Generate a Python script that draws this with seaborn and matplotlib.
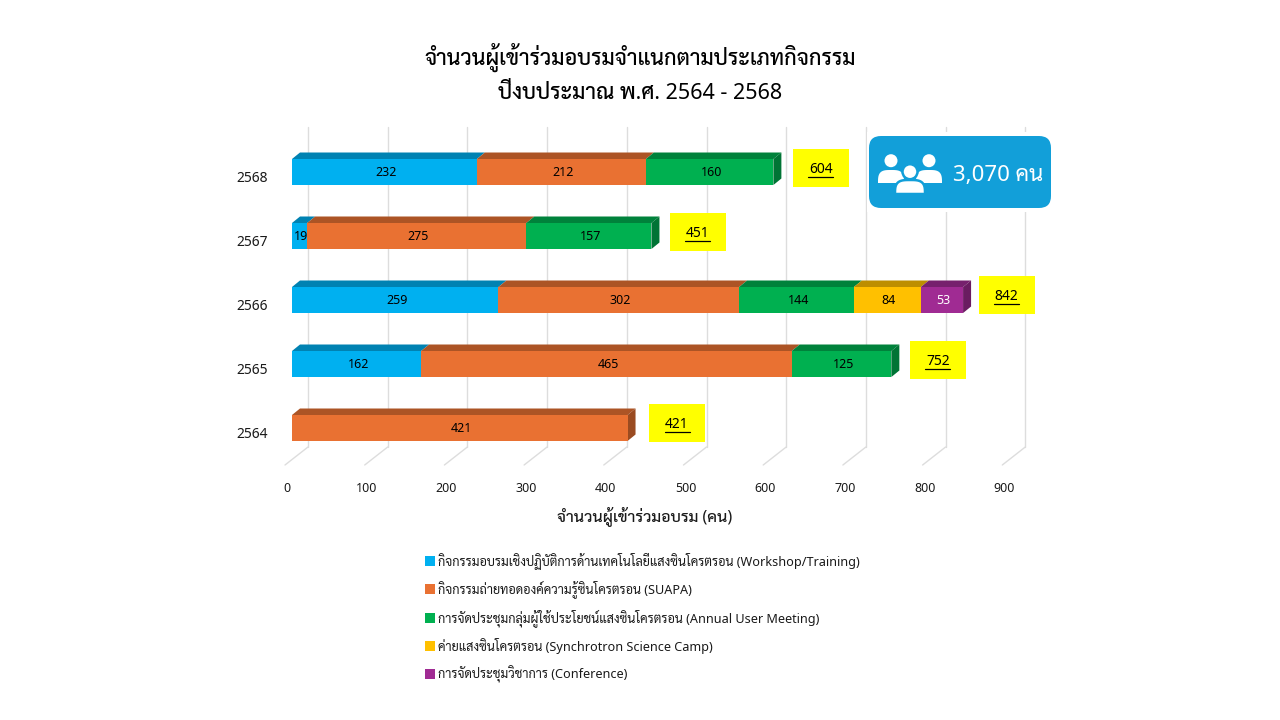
# plot.py - participants per activity type, fiscal years 2564-2568

import numpy as np
import matplotlib.pyplot as plt
import seaborn as sns
from matplotlib.colors import to_rgb
from matplotlib.patches import Circle, FancyBboxPatch, Polygon, Rectangle
from matplotlib.transforms import ScaledTranslation

# Data
years = ['2568', '2567', '2566', '2565', '2564']
workshop = [232, 19, 259, 162, 0]
suapa = [212, 275, 302, 465, 421]
user_meeting = [160, 157, 144, 125, 0]
camp = [0, 0, 84, 0, 0]
conference = [0, 0, 53, 0, 0]
totals = [604, 451, 842, 752, 421]
x_ticks = [0, 100, 200, 300, 400, 500, 600, 700, 800, 900]

series_names = [
    'กิจกรรมอบรมเชิงปฏิบัติการด้านเทคโนโลยีแสงซินโครตรอน (Workshop/Training)',
    'กิจกรรมถ่ายทอดองค์ความรู้ซินโครตรอน (SUAPA)',
    'การจัดประชุมกลุ่มผู้ใช้ประโยชน์แสงซินโครตรอน (Annual User Meeting)',
    'ค่ายแสงซินโครตรอน (Synchrotron Science Camp)',
    'การจัดประชุมวิชาการ (Conference)',
]
series_values = [workshop, suapa, user_meeting, camp, conference]
series_colors = ['#00B0F0', '#E97132', '#00B050', '#FFC000', '#A02B93']
label_colors = ['black', 'black', 'black', 'black', 'white']

# Layout of the fake 3D look, in pixels of the 1280x720 figure
W, H = 1280, 720
PX_PER_UNIT = 0.797
PX_PER_ROW = 64
ZERO_PX = 292
ROW0_PX = 172
BAR_DX = 8 / PX_PER_UNIT
BAR_DY = 6.5 / PX_PER_ROW
BAR_WIDTH = 26 / PX_PER_ROW
# hand placed total boxes: shift from the default spot, per row
box_dx_px = [-1, -2, -5, -2, 1]
box_dy_px = [-4, -4, -5, -4, -5]


def shade(color, factor):
    return tuple(c * factor for c in to_rgb(color))


sns.set_theme(style='white')
plt.rcParams['font.family'] = ['Noto Sans', 'Sarabun', 'DejaVu Sans']

fig = plt.figure(figsize=(12.8, 7.2), dpi=100)
ax_l, ax_r, ax_t, ax_b = 270, 1060, 120, 470
ax = fig.add_axes([ax_l / W, 1 - ax_b / H, (ax_r - ax_l) / W, (ax_b - ax_t) / H])

# Back wall and floor lines
GRID = '#DDDDDD'
for tick in x_ticks:
    back = tick + 16 / PX_PER_UNIT
    ax.plot([back, back], [-45 / PX_PER_ROW, 275 / PX_PER_ROW], color=GRID, lw=1.0, zorder=1)
    ax.plot([back, tick - 7 / PX_PER_UNIT], [275 / PX_PER_ROW, 293 / PX_PER_ROW],
            color=GRID, lw=1.0, zorder=1)

# Stacked front faces, then top and side faces
left = np.zeros(len(years))
for values, color, text_color in zip(series_values, series_colors, label_colors):
    values = np.array(values, dtype=float)
    sns.barplot(x=values, y=years, order=years, orient='h', left=left, color=color,
                saturation=1, width=BAR_WIDTH, errorbar=None,
                linewidth=0, ax=ax, zorder=3)
    for i, val in enumerate(values):
        if val == 0:
            continue
        x0, x1 = left[i], left[i] + val
        top = i - BAR_WIDTH / 2
        ax.add_patch(Polygon([(x0, top), (x0 + BAR_DX, top - BAR_DY),
                              (x1 + BAR_DX, top - BAR_DY), (x1, top)],
                             facecolor=shade(color, 0.74), edgecolor='none', zorder=2.5))
        ax.text((x0 + x1) / 2 + 2, i + 1 / PX_PER_ROW, f'{val:.0f}', ha='center', va='center',
                fontsize=9, color=text_color, zorder=4)
    left = left + values

for i, total in enumerate(totals):
    # side face takes the colour of the last segment in the row
    last = [k for k, v in enumerate(series_values) if v[i] > 0][-1]
    top, bottom = i - BAR_WIDTH / 2, i + BAR_WIDTH / 2
    ax.add_patch(Polygon([(total, top), (total + BAR_DX, top - BAR_DY),
                          (total + BAR_DX, bottom - BAR_DY), (total, bottom)],
                         facecolor=shade(series_colors[last], 0.66), edgecolor='none', zorder=2.5))
    # yellow total box
    box_w, box_h = 56 / PX_PER_UNIT, 38 / PX_PER_ROW
    cx = total + (48.5 + box_dx_px[i]) / PX_PER_UNIT
    cy = i + box_dy_px[i] / PX_PER_ROW
    ax.add_patch(Rectangle((cx - box_w / 2, cy - box_h / 2), box_w, box_h,
                           facecolor='#FFFF00', edgecolor='none', zorder=4))
    ax.text(cx, cy + 1.5 / PX_PER_ROW, str(total), ha='center', va='center', fontsize=10,
            color='black', zorder=5)
    ax.plot([cx - 12.5 / PX_PER_UNIT, cx + 12.5 / PX_PER_UNIT], [cy + 8.5 / PX_PER_ROW] * 2,
            color='black', lw=0.9, zorder=5)

ax.set_xlim((ax_l - ZERO_PX) / PX_PER_UNIT, (ax_r - ZERO_PX) / PX_PER_UNIT)
ax.set_ylim((ax_b - ROW0_PX) / PX_PER_ROW, (ax_t - ROW0_PX) / PX_PER_ROW)
ax.set_xticks(x_ticks)
ax.tick_params(axis='x', length=0, pad=8.5, labelsize=9, colors='#1A1A1A')
ax.tick_params(axis='y', length=0, pad=1.5, labelsize=10, colors='#1A1A1A')
ax.set_ylabel('')
for label in ax.get_xticklabels():
    label.set_transform(label.get_transform() + ScaledTranslation(-0.05, 0, fig.dpi_scale_trans))
for label in ax.get_yticklabels():
    label.set_transform(label.get_transform() + ScaledTranslation(0, -0.05, fig.dpi_scale_trans))
sns.despine(ax=ax, left=True, bottom=True)
ax.patch.set_visible(False)

ax.set_xlabel('จำนวนผู้เข้าร่วมอบรม (คน)', fontsize=11.5, fontweight='medium', color='#1A1A1A')
ax.xaxis.set_label_coords((645 - ax_l) / (ax_r - ax_l), (ax_b - 516) / (ax_b - ax_t), transform=ax.transAxes)
ax.xaxis.label.set_va('center')

fig.text(640 / W, 1 - 57.5 / H, 'จำนวนผู้เข้าร่วมอบรมจำแนกตามประเภทกิจกรรม', ha='center', va='center',
         fontsize=15.5, fontweight='medium', color='black')
fig.text(640 / W, 1 - 93.5 / H, 'ปีงบประมาณ พ.ศ. 2564 - 2568', ha='center', va='center',
         fontsize=15.5, fontweight='medium', color='black')

# Overlay in pixel coordinates: legend rows and total card
overlay = fig.add_axes([0, 0, 1, 1], zorder=5)
overlay.set_xlim(0, W)
overlay.set_ylim(H, 0)
overlay.axis('off')

legend_y = [561, 589, 618, 646, 674]
for name, color, y in zip(series_names, series_colors, legend_y):
    overlay.add_patch(Rectangle((425, y - 5), 10, 10, facecolor=color, edgecolor='none'))
    overlay.text(438, y, name, ha='left', va='center', fontsize=9.1, color='#1A1A1A')

CARD = '#129FD9'
overlay.add_patch(Rectangle((867, 132), 188, 80, facecolor='white', edgecolor='none'))
overlay.add_patch(FancyBboxPatch((881, 148), 158, 48, boxstyle='round,pad=12,rounding_size=12',
                                 facecolor=CARD, edgecolor='none'))


def person(cx, head_y, head_r, body_y, body_w, body_h, halo=False):
    # flat bottomed shoulders, fuller than a plain half ellipse
    t = np.linspace(np.pi, 2 * np.pi, 60)
    c, s = np.cos(t), np.sin(t)
    body = np.column_stack([cx + body_w / 2 * np.sign(c) * np.abs(c) ** 0.6,
                            body_y - body_h * np.abs(s) ** 0.6])
    edge = CARD if halo else 'none'
    overlay.add_patch(Polygon(body, facecolor='white', edgecolor=edge, lw=1.8))
    overlay.add_patch(Circle((cx, head_y), head_r, facecolor='white', edgecolor=edge, lw=1.8))


person(891, 160.7, 6.5, 183, 26, 13)
person(929, 160.7, 6.5, 183, 26, 13)
person(910, 171.7, 7.5, 194, 30, 14, halo=True)
overlay.text(998, 175, '3,070 คน', ha='center', va='center', fontsize=16, color='white')

fig.savefig('out.png', dpi=100)
